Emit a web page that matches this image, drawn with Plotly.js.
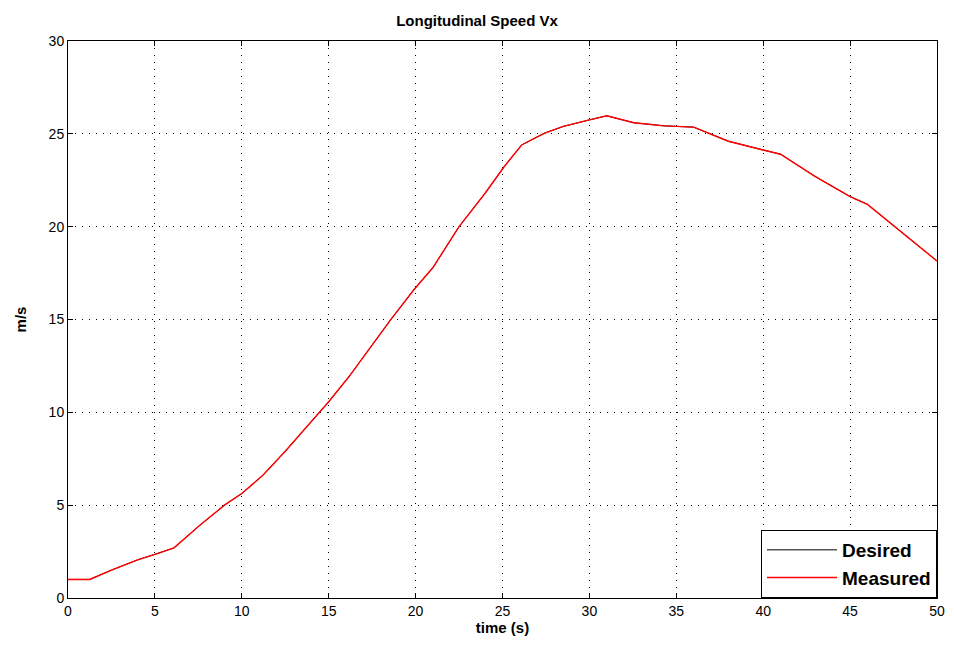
<!DOCTYPE html>
<html>
<head>
<meta charset="utf-8">
<script src="https://cdn.plot.ly/plotly-3.0.1.min.js"></script>
<style>html,body{margin:0;padding:0;background:#fff;}#chart{width:954px;height:646px;}</style>
</head>
<body>
<div id="chart"></div>
<script>
var timeS = [0, 1.25, 2.5, 4, 5, 6.1, 7.5, 9, 10, 11.2, 12.5, 14, 15, 16.15, 17.5, 18.55, 19.9, 21.0, 22.5, 24, 25.07, 26.1, 27.4, 28.5, 30, 31, 32.55, 34.3, 36.0, 38, 40, 41.0, 43, 45, 46.0, 48, 50];
var desiredVx = [1.0, 1.0, 1.5, 2.05, 2.35, 2.7, 3.85, 5.0, 5.63, 6.6, 7.9, 9.5, 10.57, 11.9, 13.6, 14.97, 16.6, 17.8, 20.0, 21.8, 23.2, 24.4, 25.03, 25.4, 25.75, 25.97, 25.6, 25.43, 25.36, 24.6, 24.13, 23.9, 22.7, 21.62, 21.2, 19.7, 18.15];
var measuredVx = [1.0, 1.0, 1.5, 2.05, 2.35, 2.7, 3.85, 5.0, 5.63, 6.6, 7.9, 9.5, 10.57, 11.9, 13.6, 14.97, 16.6, 17.8, 20.0, 21.8, 23.2, 24.4, 25.03, 25.4, 25.75, 25.97, 25.6, 25.43, 25.36, 24.6, 24.13, 23.9, 22.7, 21.62, 21.2, 19.7, 18.15];
var xTicks = [0, 5, 10, 15, 20, 25, 30, 35, 40, 45, 50];
var yTicks = [0, 5, 10, 15, 20, 25, 30];

var font = 'Arial, "Liberation Sans", sans-serif';
var traces = [
  {x: timeS, y: desiredVx, name: 'Desired', mode: 'lines', line: {color: '#000000', width: 1}},
  {x: timeS, y: measuredVx, name: 'Measured', mode: 'lines', line: {color: '#ff0000', width: 1.4}}
];
var axisCommon = {
  showline: true, mirror: 'ticks', linecolor: '#000', linewidth: 1,
  ticks: 'inside', ticklen: 5, tickcolor: '#000',
  showgrid: true, gridcolor: '#000', griddash: '1px,6px', gridwidth: 1,
  zeroline: false, tickfont: {family: font, size: 14, color: '#000'}
};
var layout = {
  width: 954, height: 646,
  paper_bgcolor: '#fff', plot_bgcolor: '#fff',
  margin: {l: 68, r: 17, t: 41, b: 48},
  title: {text: 'Longitudinal Speed Vx', font: {family: font, size: 15, color: '#000', weight: 'bold'}, x: 0.5, xanchor: 'center', y: 0.968, yanchor: 'middle'},
  xaxis: Object.assign({}, axisCommon, {range: [0, 50], tickvals: xTicks, ticktext: xTicks.map(String),
    title: {text: '<b>time (s)</b>', font: {family: font, size: 15, color: '#000'}, standoff: 0}}),
  yaxis: Object.assign({}, axisCommon, {range: [0, 30], tickvals: yTicks, ticktext: yTicks.map(String),
    title: {text: '<b>m/s</b>', font: {family: font, size: 15, color: '#000'}, standoff: 18}}),
  legend: {x: 1, y: 0, xanchor: 'right', yanchor: 'bottom', bgcolor: '#fff', bordercolor: '#000', borderwidth: 1,
    font: {family: font, size: 19, color: '#000', weight: 'bold'}, tracegroupgap: 0, itemwidth: 70},
  showlegend: true
};
Plotly.newPlot('chart', traces, layout, {displayModeBar: false, staticPlot: true});
</script>
</body>
</html>
